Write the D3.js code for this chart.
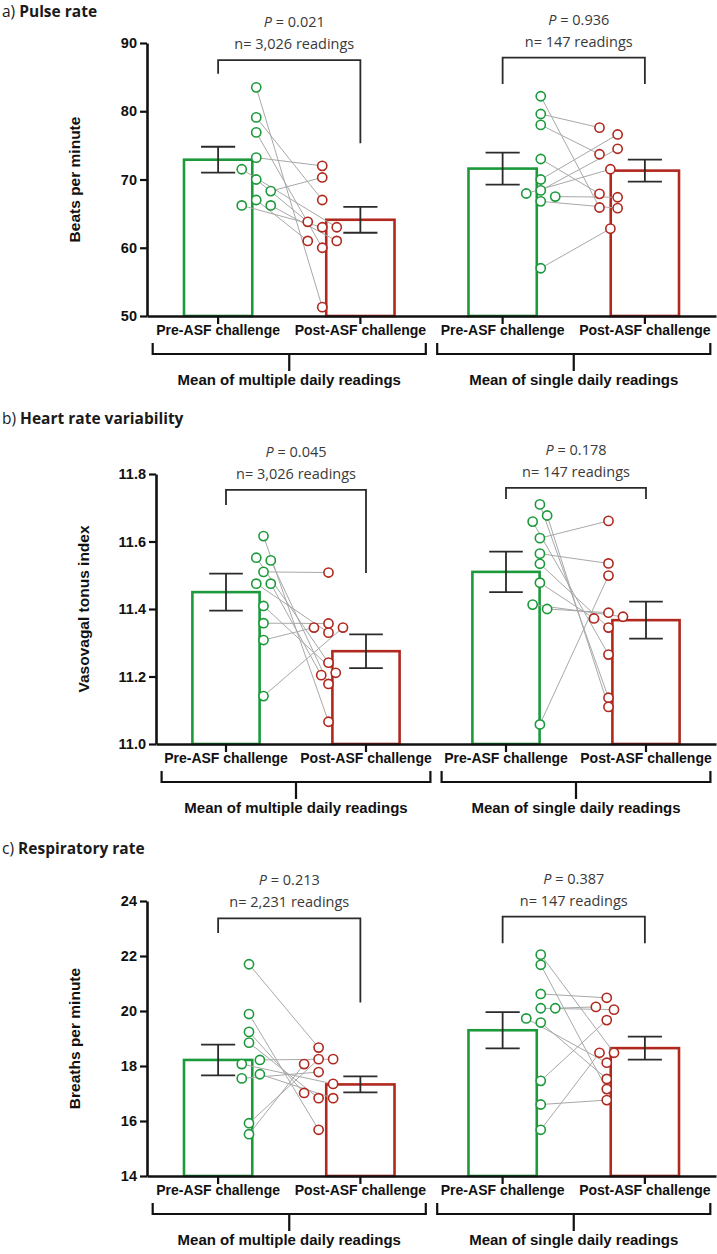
<!DOCTYPE html>
<html>
<head>
<meta charset="utf-8">
<script src="https://cdn.jsdelivr.net/npm/d3@7"></script>
<style>
  body { margin: 0; background: #fff; }
  svg { display: block; }
</style>
</head>
<body>
<svg id="fig" width="717" height="1254"></svg>
<script>
// categories along the x axis, two groups of two bars
var categories = ["Pre-ASF challenge", "Post-ASF challenge", "Pre-ASF challenge", "Post-ASF challenge"]
var groupNames = ["Mean of multiple daily readings", "Mean of single daily readings"]

// a) pulse rate
var pulseTicks = [50, 60, 70, 80, 90]
var pulseMeans = [72.9, 64.1, 71.6, 71.3]
var pulseSem = [1.9, 1.9, 2.35, 1.6]
var pulseMultiPre = [83.5, 79.1, 76.9, 73.2, 71.5, 70.0, 68.3, 67.0, 66.2, 66.2]
var pulseMultiPost = [51.3, 67.0, 60.0, 72.0, 63.0, 63.8, 70.3, 61.0, 63.0, 61.0]
var pulseMultiPreLane = [0, 0, 0, 0, -2, 0, 2, 0, -2, 2]
var pulseMultiPostLane = [0, 0, 0, 0, 2, -2, 0, -2, 0, 2]
var pulseSinglePre = [82.2, 79.6, 78.0, 73.0, 70.0, 68.4, 67.95, 67.5, 66.8, 57.0]
var pulseSinglePost = [65.9, 77.6, 73.7, 67.9, 76.6, 74.5, 71.5, 67.4, 65.8, 62.8]
var pulseSinglePreLane = [0, 0, 0, 0, 0, 0, -2, 2, 0, 0]
var pulseSinglePostLane = [-1, -1, -1, -1, 1.5, 1.5, 0.5, 1.5, 1.5, 0.5]
var pulseP = ["0.021", "0.936"]
var pulseN = ["3,026", "147"]
var pulseBracket = [[85.5, 87.5, 75.3], [84.0, 87.85, 84.0]]  // left leg end, top, right leg end

// b) heart rate variability
var hrvTicks = [11.0, 11.2, 11.4, 11.6, 11.8]
var hrvMeans = [11.45, 11.275, 11.51, 11.367]
var hrvSem = [0.055, 0.05, 0.06, 0.055]
var hrvMultiPre = [11.616, 11.552, 11.544, 11.51, 11.475, 11.475, 11.409, 11.358, 11.308, 11.142]
var hrvMultiPost = [11.066, 11.241, 11.178, 11.508, 11.33, 11.204, 11.211, 11.357, 11.345, 11.345]
var hrvMultiPreLane = [0, -1, 1, 0, -1, 1, 0, 0, 0, 0]
var hrvMultiPostLane = [0, 0, 0, 0, 0, -1, 1, 0, -2, 2]
var hrvSinglePre = [11.71, 11.677, 11.659, 11.61, 11.564, 11.534, 11.478, 11.413, 11.40, 11.058]
var hrvSinglePost = [11.137, 11.11, 11.265, 11.661, 11.535, 11.345, 11.372, 11.377, 11.389, 11.499]
var hrvSinglePreLane = [-0.5, 0.5, -1.5, -0.5, -0.5, -0.5, -0.5, -1.5, 0.5, -0.5]
var hrvSinglePostLane = [0, 0, 0, 0, 0, 0, -2, 2, 0, 0]
var hrvP = ["0.045", "0.178"]
var hrvN = ["3,026", "147"]
var hrvBracket = [[11.708, 11.753, 11.507], [11.726, 11.759, 11.726]]

// c) respiratory rate
var respTicks = [14, 16, 18, 20, 22, 24]
var respMeans = [18.22, 17.33, 19.3, 18.65]
var respSem = [0.56, 0.29, 0.66, 0.42]
var respMultiPre = [21.7, 19.89, 19.24, 18.85, 18.22, 18.07, 17.70, 17.55, 15.92, 15.52]
var respMultiPost = [18.67, 15.68, 17.02, 16.83, 18.25, 17.35, 16.83, 17.78, 18.25, 18.07]
var respMultiPreLane = [-1, -1, -1, -1, 0.5, -2, 0.5, -2, -1, -1]
var respMultiPostLane = [-0.5, -0.5, -2.5, -0.5, 1.5, 1.5, 1.5, -0.5, -0.5, -2.5]
var respSinglePre = [22.05, 21.68, 20.62, 20.1, 20.1, 19.73, 19.58, 17.46, 16.6, 15.68]
var respSinglePost = [18.48, 17.16, 20.48, 20.15, 20.05, 18.12, 17.53, 19.67, 16.76, 18.48]
var respSinglePreLane = [0, 0, 0, 2, 0, -2, 0, 0, 0, 0]
var respSinglePostLane = [1, 0, 0, -1.5, 1, 0, 0, 0, 0, -1]
var respP = ["0.213", "0.387"]
var respN = ["2,231", "147"]
var respBracket = [[22.84, 23.37, 20.31], [22.46, 23.43, 22.46]]

var green = "#1c9a3b", red = "#b0281e", ink = "#2b2b2b"
var sans = "'Open Sans', 'Noto Sans', sans-serif"
var narrow = "'Liberation Sans Narrow', 'Liberation Sans', Arial, sans-serif"
var arial = "'Liberation Sans', Arial, sans-serif"

var svg = d3.select("#fig")

function drawPanel(p){
  var g = svg.append("g")
  var y = d3.scaleLinear().domain(d3.extent(p.ticks)).range([p.bottom, p.top])
  var x = d3.scaleBand().domain(d3.range(categories.length)).range([p.axisX, 716])
  var step = x.step()
  var bw = step * 0.48
  var cx = function(i){ return x(i) + step / 2 }
  var lane = d3.scaleLinear().domain([0, 1]).range([0, 7.25])
  var off = step * 0.268

  // title
  var t = g.append("text")
      .attr("x", 2).attr("y", p.titleY)
      .attr("font-family", sans).attr("font-size", 15.5).attr("fill", "#1a1a1a")
  t.append("tspan").text(p.letter + ") ")
  t.append("tspan").attr("font-weight", "bold").text(p.title)

  // bars
  g.selectAll("rect.bar")
      .data(p.means)
    .enter().append("rect")
      .attr("class", "bar")
      .attr("x", function(d, i){ return cx(i) - bw / 2 })
      .attr("y", function(d){ return y(d) })
      .attr("width", bw)
      .attr("height", function(d){ return p.bottom - y(d) })
      .attr("fill", "#fff")
      .attr("stroke", function(d, i){ return i % 2 ? red : green })
      .attr("stroke-width", 2.6)

  // paired animals
  p.groups.forEach(function(gr, k){
    var xPre = cx(2 * k) + off, xPost = cx(2 * k + 1) - off
    var pts = gr.pre.map(function(v, i){
      return { pre: v, post: gr.post[i], lp: gr.preLane[i], lq: gr.postLane[i] }
    })
    g.append("g").selectAll("line")
        .data(pts)
      .enter().append("line")
        .attr("x1", function(d){ return xPre + lane(d.lp) })
        .attr("y1", function(d){ return y(d.pre) })
        .attr("x2", function(d){ return xPost + lane(d.lq) })
        .attr("y2", function(d){ return y(d.post) })
        .attr("stroke", "#a8a8a8").attr("stroke-width", 1)
    g.append("g").selectAll("circle")
        .data(pts)
      .enter().append("circle")
        .attr("cx", function(d){ return xPre + lane(d.lp) })
        .attr("cy", function(d){ return y(d.pre) })
        .attr("r", 4.6)
        .attr("fill", "#fff").attr("stroke", green).attr("stroke-width", 1.6)
    g.append("g").selectAll("circle")
        .data(pts)
      .enter().append("circle")
        .attr("cx", function(d){ return xPost + lane(d.lq) })
        .attr("cy", function(d){ return y(d.post) })
        .attr("r", 4.6)
        .attr("fill", "#fff").attr("stroke", red).attr("stroke-width", 1.6)
  })

  // error bars (mean +/- sem)
  var eb = g.append("g").selectAll("g")
      .data(p.means)
    .enter().append("g")
      .attr("stroke", ink).attr("stroke-width", 1.8).attr("fill", "none")
  eb.append("path")
      .attr("d", function(d, i){
        var c = cx(i), w = step * 0.12, hi = y(d + p.sem[i]), lo = y(d - p.sem[i])
        return "M" + c + "," + hi + "V" + lo +
               "M" + (c - w) + "," + hi + "H" + (c + w) +
               "M" + (c - w) + "," + lo + "H" + (c + w)
      })

  // y axis
  var yAxis = g.append("g")
      .attr("transform", "translate(" + p.axisX + ",0)")
      .call(d3.axisLeft(y).tickValues(p.ticks).tickSize(7).tickSizeOuter(0).tickPadding(3)
        .tickFormat(p.fmt))
  yAxis.select(".domain").attr("stroke", "#111").attr("stroke-width", 2.6)
  yAxis.selectAll(".tick line").attr("stroke", "#111").attr("stroke-width", 2.2)
  yAxis.selectAll(".tick text")
      .attr("font-family", arial).attr("font-weight", "bold").attr("font-size", 14.5).attr("fill", "#111")

  g.append("text")
      .attr("transform", "translate(" + (p.axisX - 67) + "," + ((p.top + p.bottom) / 2) + ") rotate(-90)")
      .attr("text-anchor", "middle")
      .attr("font-family", arial).attr("font-weight", "bold").attr("font-size", 15.5).attr("fill", "#111")
      .text(p.yLabel)

  // x axis
  var xAxis = g.append("g")
      .attr("transform", "translate(0," + p.bottom + ")")
      .call(d3.axisBottom(x).tickSize(8).tickSizeOuter(0).tickPadding(1)
        .tickFormat(function(i){ return categories[i] }))
  xAxis.select(".domain").attr("stroke", "#111").attr("stroke-width", 2.6)
  xAxis.selectAll(".tick line").attr("stroke", "#111").attr("stroke-width", 2.2)
  xAxis.selectAll(".tick text")
      .attr("font-family", narrow).attr("font-weight", "bold").attr("font-size", 14).attr("fill", "#111")

  // group brackets under the axis
  groupNames.forEach(function(name, k){
    var x0 = cx(2 * k) - step * 0.46, x1 = cx(2 * k + 1) + step * 0.46, xc = (x0 + x1) / 2
    var b = p.bottom
    g.append("path")
        .attr("d", "M" + x0 + "," + (b + 27) + "V" + (b + 38) + "H" + x1 + "V" + (b + 27) +
                   "M" + xc + "," + (b + 38) + "V" + (b + 55))
        .attr("fill", "none").attr("stroke", "#111").attr("stroke-width", 2.2)
    g.append("text")
        .attr("x", xc).attr("y", b + 69)
        .attr("text-anchor", "middle")
        .attr("font-family", narrow).attr("font-weight", "bold").attr("font-size", 15).attr("fill", "#111")
        .text(name)
  })

  // significance brackets
  p.bracket.forEach(function(br, k){
    var xl = cx(2 * k), xr = cx(2 * k + 1), top = y(br[1])
    g.append("path")
        .attr("d", "M" + xl + "," + y(br[0]) + "V" + top + "H" + xr + "V" + y(br[2]))
        .attr("fill", "none").attr("stroke", ink).attr("stroke-width", 1.8)
    var pt = g.append("text")
        .attr("x", (xl + xr) / 2 + p.textShift).attr("y", top - 33)
        .attr("text-anchor", "middle")
        .attr("font-family", sans).attr("font-size", 14.5).attr("fill", "#3a3a3a")
    pt.append("tspan").attr("font-style", "italic").text("P")
    pt.append("tspan").text(" = " + p.pvals[k])
    g.append("text")
        .attr("x", (xl + xr) / 2 + p.textShift).attr("y", top - 11)
        .attr("text-anchor", "middle")
        .attr("font-family", sans).attr("font-size", 14.5).attr("fill", "#3a3a3a")
        .text("n= " + p.ns[k] + " readings")
  })
}

drawPanel({
  letter: "a", title: "Pulse rate", yLabel: "Beats per minute",
  titleY: 17, top: 43, bottom: 316, axisX: 147, textShift: 5,
  ticks: pulseTicks, fmt: d3.format("d"),
  means: pulseMeans, sem: pulseSem,
  groups: [
    { pre: pulseMultiPre, post: pulseMultiPost, preLane: pulseMultiPreLane, postLane: pulseMultiPostLane },
    { pre: pulseSinglePre, post: pulseSinglePost, preLane: pulseSinglePreLane, postLane: pulseSinglePostLane }
  ],
  pvals: pulseP, ns: pulseN, bracket: pulseBracket
})

drawPanel({
  letter: "b", title: "Heart rate variability", yLabel: "Vasovagal tonus index",
  titleY: 424, top: 474, bottom: 744, axisX: 156, textShift: 0,
  ticks: hrvTicks, fmt: d3.format(".1f"),
  means: hrvMeans, sem: hrvSem,
  groups: [
    { pre: hrvMultiPre, post: hrvMultiPost, preLane: hrvMultiPreLane, postLane: hrvMultiPostLane },
    { pre: hrvSinglePre, post: hrvSinglePost, preLane: hrvSinglePreLane, postLane: hrvSinglePostLane }
  ],
  pvals: hrvP, ns: hrvN, bracket: hrvBracket
})

drawPanel({
  letter: "c", title: "Respiratory rate", yLabel: "Breaths per minute",
  titleY: 854, top: 901, bottom: 1176, axisX: 147, textShift: 0,
  ticks: respTicks, fmt: d3.format("d"),
  means: respMeans, sem: respSem,
  groups: [
    { pre: respMultiPre, post: respMultiPost, preLane: respMultiPreLane, postLane: respMultiPostLane },
    { pre: respSinglePre, post: respSinglePost, preLane: respSinglePreLane, postLane: respSinglePostLane }
  ],
  pvals: respP, ns: respN, bracket: respBracket
})
</script>
</body>
</html>
